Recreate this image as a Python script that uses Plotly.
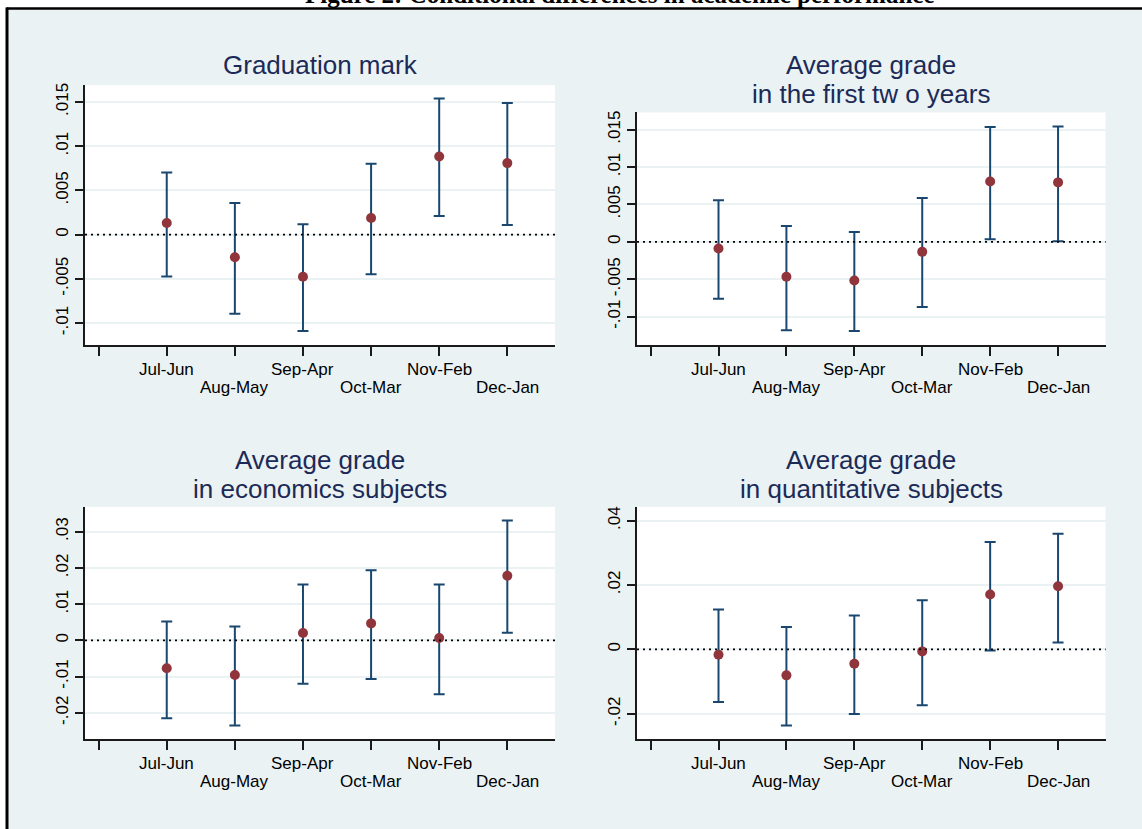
import plotly.graph_objects as go

# ---- data -----------------------------------------------------------------
categories = ["Jul-Jun", "Aug-May", "Sep-Apr", "Oct-Mar", "Nov-Feb", "Dec-Jan"]

# Graduation mark
grad_coef = [0.00132, -0.00256, -0.00477, 0.00188, 0.00883, 0.00808]
grad_hi = [0.00703, 0.00357, 0.00117, 0.00801, 0.01538, 0.01489]
grad_lo = [-0.00474, -0.00895, -0.01090, -0.00447, 0.00211, 0.00109]

# Average grade in the first two years
two_coef = [-0.00089, -0.00466, -0.00515, -0.00133, 0.00808, 0.00795]
two_hi = [0.00555, 0.00213, 0.00133, 0.00586, 0.01536, 0.01541]
two_lo = [-0.00759, -0.01181, -0.01190, -0.00870, 0.00036, 0.00009]

# Average grade in economics subjects
econ_coef = [-0.00772, -0.00956, 0.00202, 0.00469, 0.00064, 0.01783]
econ_hi = [0.00524, 0.00386, 0.01544, 0.01939, 0.01544, 0.03309]
econ_lo = [-0.02151, -0.02353, -0.01195, -0.01066, -0.01489, 0.00211]

# Average grade in quantitative subjects
quant_coef = [-0.00165, -0.00806, -0.00444, -0.00062, 0.01704, 0.01962]
quant_hi = [0.01239, 0.00692, 0.01053, 0.01528, 0.03336, 0.03594]
quant_lo = [-0.01632, -0.02365, -0.02004, -0.01735, -0.00031, 0.00217]

grad_ticks = [-0.01, -0.005, 0, 0.005, 0.01, 0.015]
grad_ticklabels = ["-.01", "-.005", "0", ".005", ".01", ".015"]
two_ticks = [-0.01, -0.005, 0, 0.005, 0.01, 0.015]
two_ticklabels = ["-.01", "-.005", "0", ".005", ".01", ".015"]
econ_ticks = [-0.02, -0.01, 0, 0.01, 0.02, 0.03]
econ_ticklabels = ["-.02", "-.01", "0", ".01", ".02", ".03"]
quant_ticks = [-0.02, 0, 0.02, 0.04]
quant_ticklabels = ["-.02", "0", ".02", ".04"]

fig_title = "Figure 2: Conditional differences in academic performance"

# ---- styling ----------------------------------------------------------------
W, H = 1142, 829
BG = "#EAF2F3"
NAVY = "#1A476F"
MAROON = "#90353B"
TITLE_COL = "#1C2A57"
AXIS_COL = "#1a1a1a"
FONT = "Liberation Sans, Arial, sans-serif"


def px_x(v):
    return v / W


def px_y(v):
    return 1 - v / H


panels = [
    dict(coef=grad_coef, hi=grad_hi, lo=grad_lo, ticks=grad_ticks, labels=grad_ticklabels,
         yr=[-0.0125, 0.0169], box=(85, 555, 83.3, 344),
         title=["Graduation mark"], title_base=72.6),
    dict(coef=two_coef, hi=two_hi, lo=two_lo, ticks=two_ticks, labels=two_ticklabels,
         yr=[-0.0138, 0.0173], box=(637, 1105.6, 110.7, 344),
         title=["Average grade", "in the first tw o years"], title_base=72.2),
    dict(coef=econ_coef, hi=econ_hi, lo=econ_lo, ticks=econ_ticks, labels=econ_ticklabels,
         yr=[-0.0273, 0.0369], box=(85, 555, 506, 739),
         title=["Average grade", "in economics subjects"], title_base=467.7),
    dict(coef=quant_coef, hi=quant_hi, lo=quant_lo, ticks=quant_ticks, labels=quant_ticklabels,
         yr=[-0.0279, 0.0443], box=(637, 1105.6, 506, 739),
         title=["Average grade", "in quantitative subjects"], title_base=467.7),
]

positions = list(range(1, len(categories) + 1))
TITLE_SIZE = 26
TITLE_LEAD = 29.1

fig = go.Figure()
annotations = []
shapes = []

for i, p in enumerate(panels, start=1):
    sfx = "" if i == 1 else str(i)
    xa, ya = "x" + sfx, "y" + sfx
    up = [h - c for h, c in zip(p["hi"], p["coef"])]
    dn = [c - l for c, l in zip(p["coef"], p["lo"])]
    fig.add_trace(go.Scatter(
        x=positions, y=p["coef"], xaxis=xa, yaxis=ya, mode="markers",
        marker=dict(color=MAROON, size=10),
        error_y=dict(type="data", symmetric=False, array=up, arrayminus=dn,
                     color=NAVY, thickness=2, width=5.5),
        showlegend=False, hoverinfo="skip",
    ))
    x0, x1, y0, y1 = p["box"]
    fig.layout["xaxis" + sfx] = dict(
        domain=[px_x(x0), px_x(x1)], range=[-0.2, 6.7], anchor=ya,
        tickvals=list(range(0, len(categories) + 1)), showticklabels=False,
        ticks="outside", ticklen=9, tickwidth=1.5, tickcolor=AXIS_COL,
        showline=True, linecolor=AXIS_COL, linewidth=1.5,
        showgrid=False, zeroline=False, fixedrange=True,
    )
    fig.layout["yaxis" + sfx] = dict(
        domain=[px_y(y1), px_y(y0)], range=p["yr"], anchor=xa,
        tickvals=p["ticks"], ticktext=p["labels"], tickangle=-90,
        tickfont=dict(family=FONT, size=17, color="black"),
        ticks="outside", ticklen=8, tickwidth=1.5, tickcolor=AXIS_COL,
        showline=True, linecolor=AXIS_COL, linewidth=1.5,
        showgrid=True, gridcolor=BG, gridwidth=2, zeroline=False, fixedrange=True,
    )
    # dotted reference line at zero
    shapes.append(dict(type="line", xref=xa + " domain", yref=ya, x0=0, x1=1, y0=0, y1=0,
                       line=dict(color="black", width=1.6, dash="2px,4px"), layer="above"))
    # panel title, one annotation per line
    cx = (x0 + x1) / 2
    for k, line in enumerate(p["title"]):
        base = p["title_base"] + TITLE_LEAD * k
        annotations.append(dict(text=line, xref="paper", yref="paper",
                                x=px_x(cx), y=px_y(base - 0.3465 * TITLE_SIZE),
                                xanchor="center", yanchor="middle", showarrow=False,
                                borderpad=0,
                                font=dict(family=FONT, size=TITLE_SIZE, color=TITLE_COL)))
    # category labels in two staggered rows
    for j, (pos, cat) in enumerate(zip(positions, categories)):
        row = j % 2
        cy = y1 + (24.5 if row == 0 else 42.5)
        annotations.append(dict(text=cat, xref=xa, yref="paper",
                                x=pos, y=px_y(cy), xanchor="center", yanchor="middle",
                                showarrow=False, borderpad=0,
                                font=dict(family=FONT, size=17, color="black")))

# white margin outside the graph region, with its black frame
shapes.insert(0, dict(type="rect", xref="paper", yref="paper", x0=0, x1=1,
                      y0=px_y(6), y1=1.01, fillcolor="white", line=dict(width=0), layer="below"))
shapes.insert(1, dict(type="rect", xref="paper", yref="paper", x0=-0.01, x1=px_x(6.5),
                      y0=-0.01, y1=1.01, fillcolor="white", line=dict(width=0), layer="below"))
shapes.append(dict(type="line", xref="paper", yref="paper", x0=px_x(6.5), x1=1.01,
                   y0=px_y(6.5), y1=px_y(6.5), line=dict(color="black", width=2.5)))
shapes.append(dict(type="line", xref="paper", yref="paper", x0=px_x(7), x1=px_x(7),
                   y0=-0.01, y1=px_y(5.5), line=dict(color="black", width=3)))

annotations.append(dict(text="<b>" + fig_title + "</b>", xref="paper", yref="paper",
                        x=px_x(620), y=px_y(-7.4), xanchor="center", yanchor="middle",
                        showarrow=False,
                        font=dict(family="Liberation Serif, Times New Roman, serif",
                                  size=25, color="black")))

fig.update_layout(
    width=W, height=H, margin=dict(l=0, r=0, t=0, b=0),
    paper_bgcolor=BG, plot_bgcolor="white",
    annotations=annotations, shapes=shapes, showlegend=False,
)

fig.write_html("out.html", config={"displayModeBar": False})
